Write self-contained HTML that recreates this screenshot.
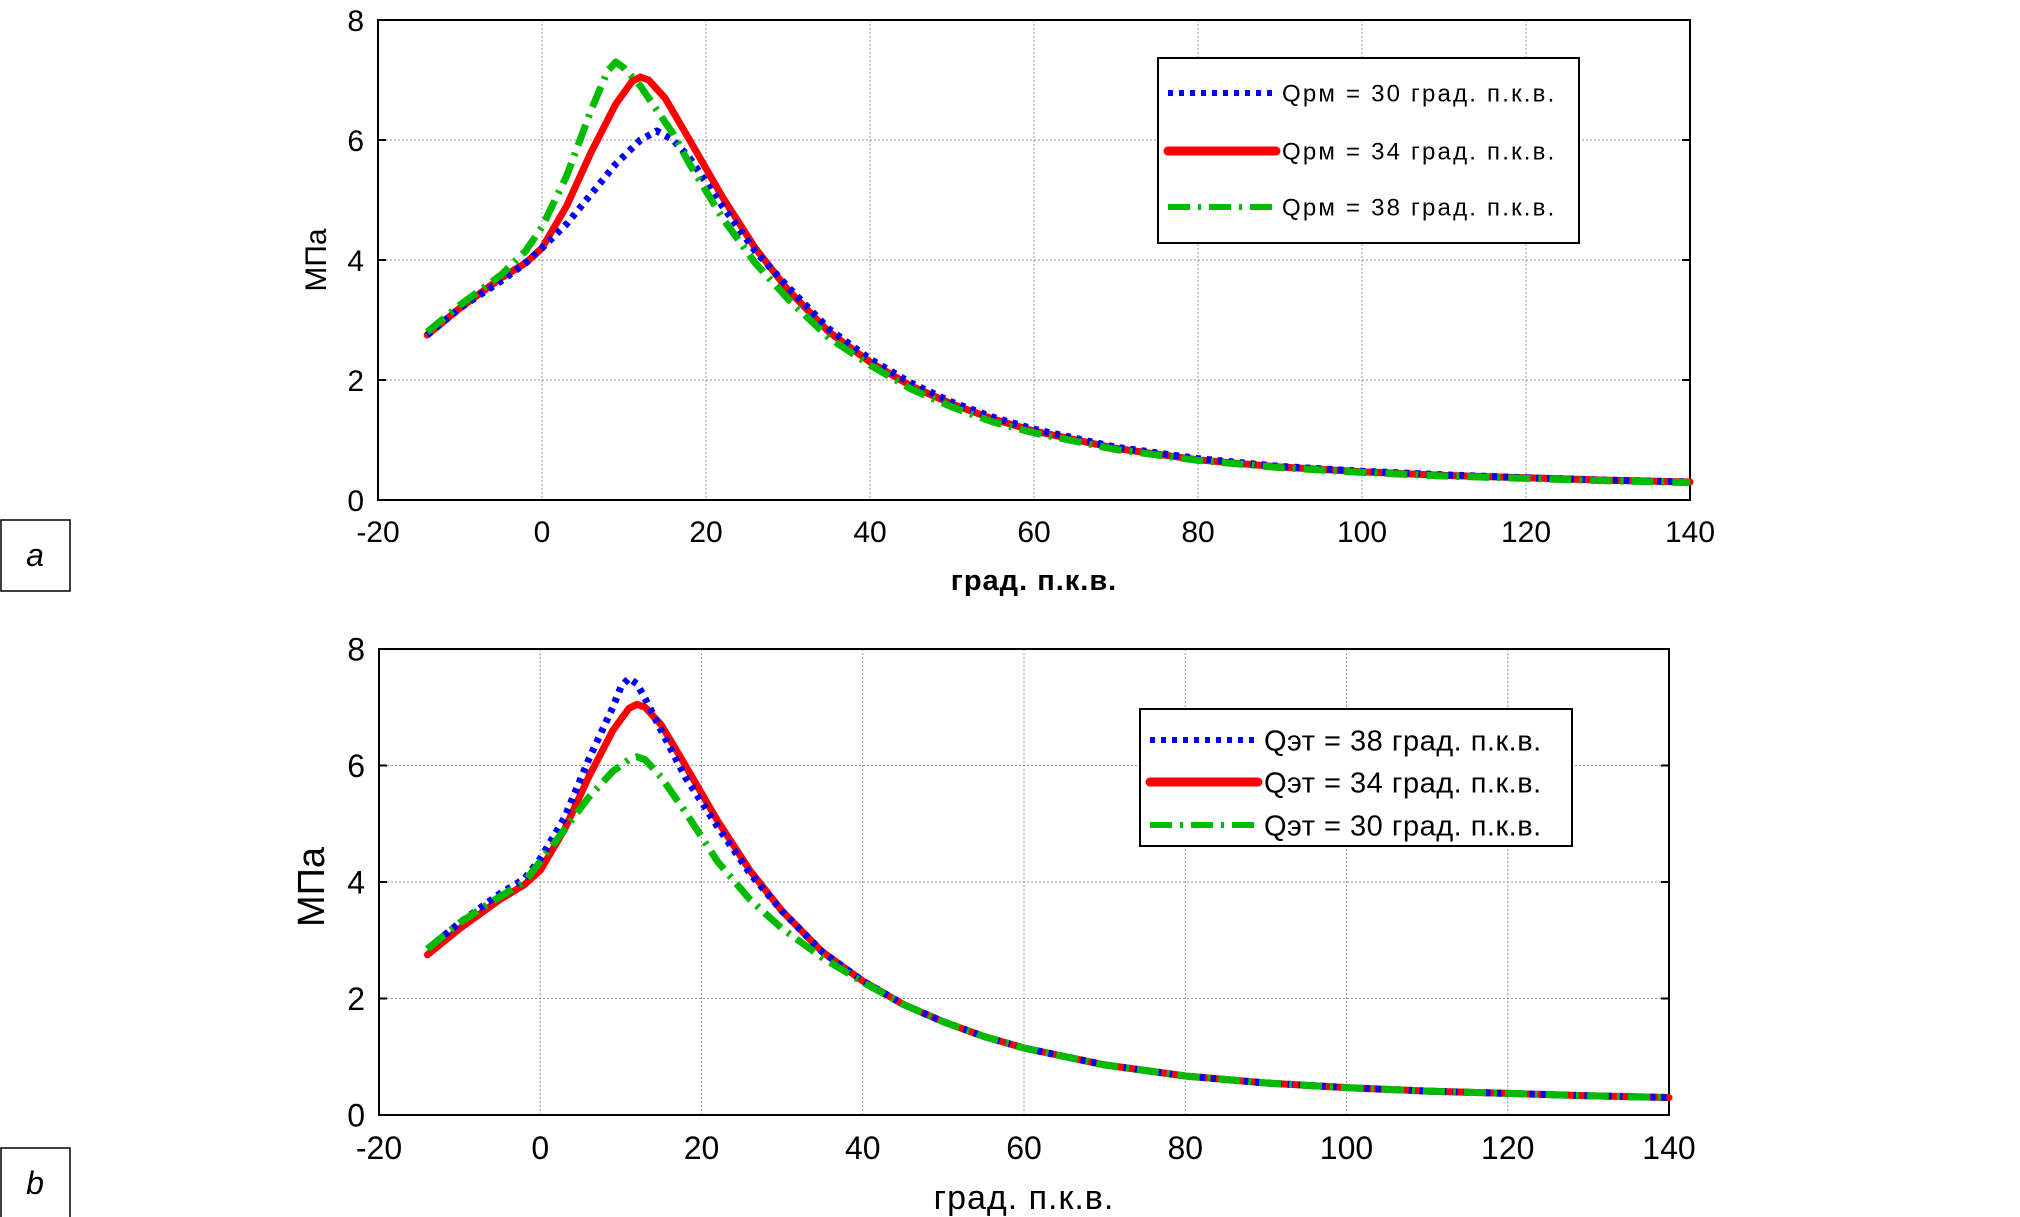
<!DOCTYPE html>
<html><head><meta charset="utf-8"><style>
html,body{margin:0;padding:0;background:#fff;}
body{width:2020px;height:1217px;overflow:hidden;position:relative;font-family:"Liberation Sans",sans-serif;}
svg{position:absolute;left:0;top:0;}
</style></head><body>
<svg id="fig" width="2020" height="1217" viewBox="0 0 2020 1217" xmlns="http://www.w3.org/2000/svg"></svg>
<script>
// ---- data ----
const xTicks = [-20,0,20,40,60,80,100,120,140];
const yTicks = [0,2,4,6,8];
// Top chart (a)
const aX_red   = [-14,-10,-5,-2,0,3,6,9,11,12,13,15,18,22,26,30,35,40,45,50,55,60,70,80,90,100,110,120,130,140];
const aY_red   = [2.75,3.2,3.7,3.95,4.2,4.9,5.8,6.6,6.98,7.05,7.0,6.7,6.0,5.05,4.2,3.5,2.8,2.3,1.9,1.6,1.35,1.15,0.86,0.67,0.55,0.47,0.41,0.37,0.33,0.3];
const aX_blue  = [-14,-10,-5,-2,0,3,6,9,12,14,16,18,22,26,30,35,40,45,50,55,60,70,80,90,100,110,120,130,140];
const aY_blue  = [2.75,3.2,3.65,3.95,4.2,4.6,5.1,5.6,6.0,6.15,6.0,5.7,4.9,4.15,3.55,2.85,2.35,1.95,1.63,1.38,1.18,0.88,0.69,0.56,0.48,0.42,0.37,0.33,0.3];
const aX_green = [-14,-10,-5,-2,0,3,6,8,9,10,12,14,16,18,22,26,30,35,40,45,50,55,60,70,80,90,100,110,120,130,140];
const aY_green = [2.8,3.25,3.75,4.15,4.55,5.4,6.5,7.15,7.3,7.2,6.9,6.5,6.1,5.6,4.7,3.95,3.35,2.7,2.25,1.85,1.55,1.3,1.12,0.84,0.66,0.54,0.46,0.4,0.36,0.32,0.29];
// Bottom chart (b)
const bX_red   = aX_red;
const bY_red   = aY_red;
const bX_blue  = [-14,-10,-5,-2,0,3,6,9,10,11,12,13,15,18,22,26,30,35,40,45,50,55,60,70,80,90,100,110,120,130,140];
const bY_blue  = [2.85,3.3,3.8,4.05,4.4,5.1,6.1,7.0,7.35,7.5,7.4,7.15,6.6,5.8,4.95,4.15,3.5,2.8,2.3,1.9,1.6,1.35,1.15,0.86,0.67,0.55,0.47,0.41,0.37,0.33,0.3];
const bX_green = [-14,-10,-5,-2,0,3,6,9,11,12,13,15,18,22,26,30,35,40,45,50,55,60,70,80,90,100,110,120,130,140];
const bY_green = [2.85,3.3,3.75,4.0,4.35,4.9,5.45,5.9,6.1,6.15,6.1,5.8,5.2,4.35,3.7,3.2,2.7,2.28,1.9,1.6,1.35,1.15,0.86,0.67,0.55,0.47,0.41,0.37,0.33,0.3];

const NS = "http://www.w3.org/2000/svg";
const svg = document.getElementById('fig');
function mk(tag, attrs, parent){const e=document.createElementNS(NS,tag);for(const k in attrs)e.setAttribute(k,attrs[k]);(parent||svg).appendChild(e);return e;}

function chart(cfg){
  const g = mk('g',{});
  
  
  const sx = v => cfg.L + (v - (-20)) / 160 * (cfg.R - cfg.L);
  const sy = v => cfg.B - v / 8 * (cfg.B - cfg.T);
  xTicks.forEach(t=>{
    if(t>-20 && t<140){
      const l=mk('line',{x1:sx(t),x2:sx(t),y1:cfg.T,y2:cfg.B,stroke:'#999','stroke-width':1,'stroke-dasharray':'2 2'},g);
      
      
    }
    const tx=mk('text',{x:sx(t),y:cfg.B+cfg.tickDy,'text-anchor':'middle','font-size':cfg.tickFs,fill:'#000'},g);
    tx.textContent=t;
    
    
  });
  yTicks.forEach(t=>{
    if(t>0 && t<8){
      const l=mk('line',{x1:cfg.L,x2:cfg.R,y1:sy(t),y2:sy(t),stroke:'#999','stroke-width':1,'stroke-dasharray':'2 2'},g);
      
      
    }
    mk('line',{x1:cfg.L,x2:cfg.L+8,y1:sy(t),y2:sy(t),stroke:'#000','stroke-width':2},g);
    mk('line',{x1:cfg.R-8,x2:cfg.R,y1:sy(t),y2:sy(t),stroke:'#000','stroke-width':2},g);
    const tx=mk('text',{x:cfg.L-14,y:sy(t)+cfg.tickFs*0.36,'text-anchor':'end','font-size':cfg.tickFs,fill:'#000'},g);
    tx.textContent=t;
    
    
  });
  const fr=mk('rect',{x:cfg.L,y:cfg.T,width:cfg.R-cfg.L,height:cfg.B-cfg.T,fill:'none',stroke:'#000','stroke-width':2},g);
  
  
  const styles={blue:{c:'#0000ff',d:'5 6',cap:'butt'},red:{c:'#ff0000',d:'',cap:'round'},green:{c:'#00bb00',d:'22 8 3 8',cap:'butt'}};
  cfg.series.forEach(s=>{
    const st=styles[s.style];
    const pts=s.x.map((v,i)=>sx(v).toFixed(1)+','+sy(s.y[i]).toFixed(1)).join(' ');
    const p=mk('polyline',{points:pts,fill:'none',stroke:st.c,'stroke-width':7,'stroke-dasharray':st.d,'stroke-linecap':st.cap,'stroke-linejoin':'round'},g);
    
    
  });
  const lg=mk('g',{},g);
  
  
  mk('rect',{x:cfg.leg.x,y:cfg.leg.y,width:cfg.leg.w,height:cfg.leg.h,fill:'#fff',stroke:'#000','stroke-width':2},lg);
  cfg.legendOrder.forEach((k,i)=>{
    const st=styles[k];
    const yy=cfg.leg.rows[i];
    mk('line',{x1:cfg.leg.x+10,x2:cfg.leg.x+118,y1:yy,y2:yy,stroke:st.c,'stroke-width':st.cap==='round'?9:6,'stroke-dasharray':st.d,'stroke-linecap':st.cap},lg);
    const t=mk('text',{x:cfg.leg.x+124,y:yy+cfg.leg.fs*0.36,'font-size':cfg.leg.fs,'letter-spacing':cfg.leg.ls,fill:'#000'},lg);
    t.textContent=cfg.legendText[i];
    
    
  });
  const xt=mk('text',{x:(cfg.L+cfg.R)/2,y:cfg.xTitleY,'text-anchor':'middle','font-size':cfg.xTitleFs,'font-weight':cfg.xTitleW,'letter-spacing':1,fill:'#000'},g);
  xt.textContent='град. п.к.в.';
  
  
  const yt=mk('text',{x:0,y:0,'text-anchor':'middle','font-size':cfg.yTitleFs,fill:'#000',transform:`translate(${cfg.yTitleX},${cfg.yTitleY}) rotate(-90)`},g);
  yt.textContent='МПа';
  
  
}

chart({name:'chart-a',L:378,R:1690,T:20,B:500,tickFs:30,tickDy:42,
  series:[{name:'series-qrm-34',style:'red',x:aX_red,y:aY_red},{name:'series-qrm-30',style:'blue',x:aX_blue,y:aY_blue},{name:'series-qrm-38',style:'green',x:aX_green,y:aY_green}],
  legendOrder:['blue','red','green'],
  legendText:['Qрм = 30 град. п.к.в.','Qрм = 34 град. п.к.в.','Qрм = 38 град. п.к.в.'],
  leg:{x:1158,y:58,w:421,h:185,rows:[93,151,207],fs:24,ls:2.2},
  xTitleY:590,xTitleFs:29,xTitleW:'bold',yTitleX:326,yTitleY:260,yTitleFs:30});
chart({name:'chart-b',L:379,R:1669,T:649,B:1115,tickFs:32,tickDy:44,
  series:[{name:'series-qet-34',style:'red',x:bX_red,y:bY_red},{name:'series-qet-38',style:'blue',x:bX_blue,y:bY_blue},{name:'series-qet-30',style:'green',x:bX_green,y:bY_green}],
  legendOrder:['blue','red','green'],
  legendText:['Qэт = 38 град. п.к.в.','Qэт = 34 град. п.к.в.','Qэт = 30 град. п.к.в.'],
  leg:{x:1140,y:709,w:432,h:137,rows:[740,782,825],fs:29,ls:0.5},
  xTitleY:1209,xTitleFs:34,xTitleW:'normal',yTitleX:324,yTitleY:887,yTitleFs:38});

[['a',0,520,'panel-label-a'],['b',0,1148,'panel-label-b']].forEach(p=>{
  const g=mk('g',{});
  
  
  mk('rect',{x:1,y:p[2],width:69,height:71,fill:'#fff',stroke:'#000','stroke-width':1.5},g);
  const t=mk('text',{x:35,y:p[2]+46,'text-anchor':'middle','font-size':32,'font-style':'italic',fill:'#000'},g);
  t.textContent=p[0];
});
</script>
</body></html>
